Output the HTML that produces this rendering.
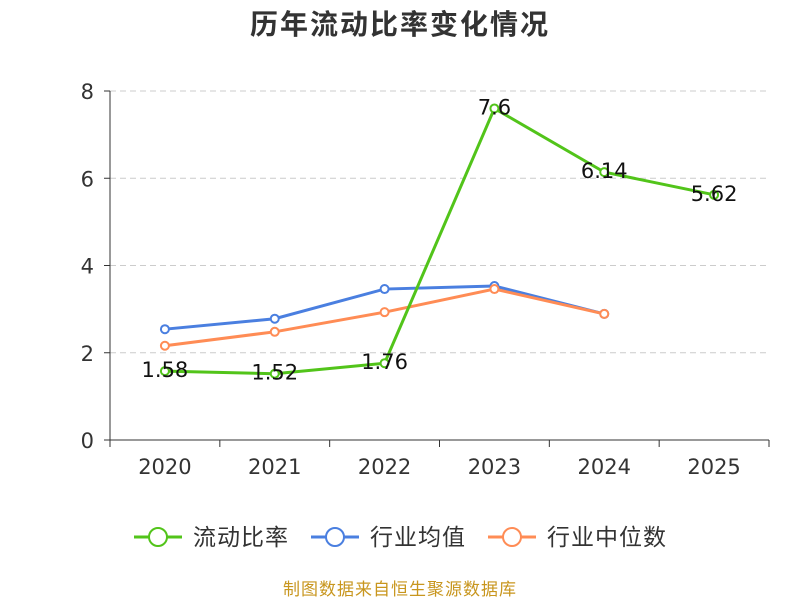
<!DOCTYPE html>
<html><head><meta charset="utf-8"><style>
body{margin:0;background:#fff;}
svg text{font-family:"DejaVu Sans","Noto Sans CJK SC",sans-serif;}
</style></head><body>
<svg id="c" width="800" height="600" xmlns="http://www.w3.org/2000/svg">
<text x="400" y="34" text-anchor="middle" font-size="28" font-weight="bold" letter-spacing="2" fill="#333">历年流动比率变化情况</text>
<g id="grid"></g><g id="axes"></g><g id="series"></g><g id="labels"></g>
<g>
<g><line x1="134" y1="537" x2="182" y2="537" stroke="#52c41a" stroke-width="3"/><circle cx="158" cy="537" r="9" fill="#fff" stroke="#52c41a" stroke-width="2"/><text x="193" y="545" font-size="23" letter-spacing="1" fill="#333">流动比率</text></g>
<g><line x1="311" y1="537" x2="359" y2="537" stroke="#4a7fe0" stroke-width="3"/><circle cx="335" cy="537" r="9" fill="#fff" stroke="#4a7fe0" stroke-width="2"/><text x="370" y="545" font-size="23" letter-spacing="1" fill="#333">行业均值</text></g>
<g><line x1="488" y1="537" x2="536" y2="537" stroke="#ff8c55" stroke-width="3"/><circle cx="512" cy="537" r="9" fill="#fff" stroke="#ff8c55" stroke-width="2"/><text x="547" y="545" font-size="23" letter-spacing="1" fill="#333">行业中位数</text></g>
</g>
<text x="400" y="595" text-anchor="middle" font-size="17" letter-spacing="1" fill="#c8961e">制图数据来自恒生聚源数据库</text>
</svg>
<script>
const categories=["2020","2021","2022","2023","2024","2025"];
const ratioValues=[1.58,1.52,1.76,7.6,6.14,5.62];
const ratioLabels=["1.58","1.52","1.76","7.6","6.14","5.62"];
const avgValues=[2.54,2.78,3.46,3.53,2.89];
const medianValues=[2.16,2.48,2.93,3.46,2.89];
const yTicks=[0,2,4,6,8];
const NS="http://www.w3.org/2000/svg";
const L=110,R=769,T=91,B=440,yMax=8;
const bw=(R-L)/categories.length;
const x=i=>L+bw*(i+0.5);
const y=v=>B-(v/yMax)*(B-T);
function el(tag,attrs,parent){const e=document.createElementNS(NS,tag);for(const k in attrs)e.setAttribute(k,attrs[k]);parent.appendChild(e);return e;}
const grid=document.getElementById('grid'),axes=document.getElementById('axes'),series=document.getElementById('series'),labels=document.getElementById('labels');
yTicks.forEach(t=>{
 if(t>0){const g=el('line',{x1:L,x2:R,y1:y(t),y2:y(t),stroke:'#ccc','stroke-dasharray':'6,4'},grid);
 
 }
 const tk=el('line',{x1:L-6,x2:L,y1:y(t),y2:y(t),stroke:'#333'},axes);
 
 
 const tx=el('text',{x:L-16,y:y(t)+8,'text-anchor':'end','font-size':21,fill:'#333'},axes);tx.textContent=t;
 
 
});
const ya=el('line',{x1:L,x2:L,y1:T,y2:B,stroke:'#333'},axes);


const xa=el('line',{x1:L,x2:R,y1:B,y2:B,stroke:'#333'},axes);


for(let i=0;i<=categories.length;i++){const t=el('line',{x1:L+bw*i,x2:L+bw*i,y1:B,y2:B+7,stroke:'#333'},axes);
 
 }
categories.forEach((c,i)=>{const t=el('text',{x:x(i),y:B+34,'text-anchor':'middle','font-size':21,fill:'#333'},axes);t.textContent=c;
 
 });
function drawSeries(vals,color,name){
 const pl=el('polyline',{points:vals.map((v,i)=>x(i)+','+y(v)).join(' '),fill:'none',stroke:color,'stroke-width':3},series);
 
 
 vals.forEach((v,i)=>{const c=el('circle',{cx:x(i),cy:y(v),r:4,fill:'#fff',stroke:color,'stroke-width':2},series);
 
 });
}
drawSeries(avgValues,'#4a7fe0','industry-average');
drawSeries(medianValues,'#ff8c55','industry-median');
drawSeries(ratioValues,'#52c41a','current-ratio');
ratioValues.forEach((v,i)=>{const t=el('text',{x:x(i),y:y(v)+6,'text-anchor':'middle','font-size':21,fill:'#111'},labels);t.textContent=ratioLabels[i];
 
 });
</script>
</body></html>
